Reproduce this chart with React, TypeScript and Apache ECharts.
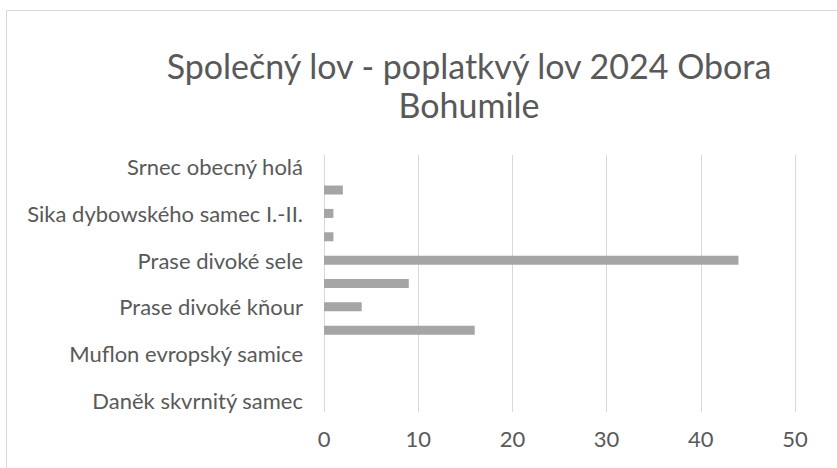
import React, { useEffect, useRef } from "react";
import * as echarts from "echarts";

const titleText = "Společný lov - poplatkvý lov 2024 Obora\nBohumile";
const categories = [
  "Daněk skvrnitý samec",
  "Muflon evropský beran",
  "Muflon evropský samice",
  "Prase divoké bachyně",
  "Prase divoké kňour",
  "Prase divoké lončák",
  "Prase divoké sele",
  "Sika dybowského holá",
  "Sika dybowského samec I.-II.",
  "Sika dybowského samec III.",
  "Srnec obecný holá",
];
const values = [0, 0, 0, 16, 4, 9, 44, 1, 1, 2, 0];
const xTicks = { min: 0, max: 50, interval: 10 };

const FONT = "Lato";

export default function App() {
  const ref = useRef<HTMLDivElement>(null);
  useEffect(() => {
    if (!ref.current) return;
    const chart = echarts.init(ref.current, undefined, { renderer: "svg" });
    chart.setOption({
      animation: false,
      backgroundColor: "#ffffff",
      title: {
        text: titleText,
        left: 464,
        top: 41,
        textAlign: "center",
        textStyle: {
          fontFamily: FONT,
          fontSize: 34,
          fontWeight: "normal",
          color: "#595959",
          lineHeight: 39,
        },
      },
      graphic: [
        {
          type: "rect",
          shape: { x: 6.5, y: 10.5, width: 1000, height: 1000 },
          style: { fill: "none", stroke: "#d9d9d9", lineWidth: 1 },
          silent: true,
        },
      ],
      grid: { left: 324, right: 42, top: 155, bottom: 56, containLabel: false },
      xAxis: {
        type: "value",
        min: xTicks.min,
        max: xTicks.max,
        interval: xTicks.interval,
        axisLine: { show: false },
        axisTick: { show: false },
        splitLine: { lineStyle: { color: "#d9d9d9", width: 1 } },
        axisLabel: { color: "#595959", fontFamily: FONT, fontSize: 22, margin: 15 },
      },
      yAxis: {
        type: "category",
        data: categories,
        axisLine: { show: false },
        axisTick: { show: false },
        axisLabel: { color: "#595959", fontFamily: FONT, fontSize: 22, margin: 21, interval: 1 },
      },
      series: [
        {
          type: "bar",
          data: values,
          barWidth: 9,
          itemStyle: { color: "#a5a5a5" },
        },
      ],
    });
    return () => chart.dispose();
  }, []);
  return (
    <div
      ref={ref}
      style={{ position: "fixed", left: 0, top: 0, width: 837, height: 468 }}
    />
  );
}
